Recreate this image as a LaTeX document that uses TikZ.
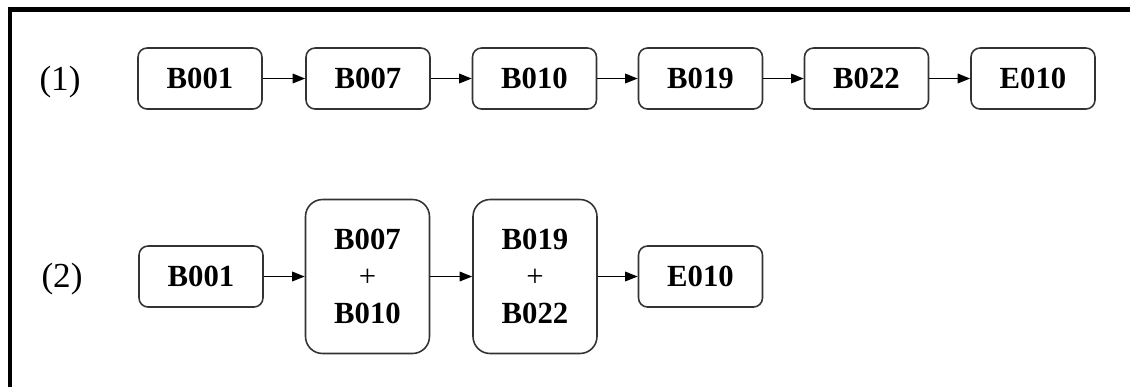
\documentclass[tikz,border=0pt]{standalone}
\usepackage{fontspec}
\setmainfont{Liberation Serif}
\usetikzlibrary{arrows.meta}

\tikzset{
  blk/.style={draw=black!80, line width=0.9pt, rounded corners=0.18cm,
    minimum width=2.48cm, minimum height=1.22cm, inner sep=0pt,
    align=center, font=\fontsize{17.5}{21}\selectfont\bfseries},
  bigblk/.style={blk, minimum height=3.08cm, rounded corners=0.34cm},
  flow/.style={-{Triangle[length=0.25cm,width=0.19cm]}, line width=0.9pt},
  lbl/.style={font=\fontsize{20}{24}\selectfont}
}

\begin{document}
\begin{tikzpicture}[x=0.02cm, y=-0.02cm]
        \useasboundingbox (0,0) rectangle (1130,387);
        % frame
        \draw[line width=0.1cm] (10,387)--(10,9.7)--(1130,9.7);

        % first sequence
        \node[lbl] (l1) at (60,82) {(1)};
        \node[blk] (a1) at (200,78.5) {B001};
        \node[blk] (a2) at (368,78.5) {B007};
        \node[blk] (a3) at (534.5,78.5) {B010};
        \node[blk] (a4) at (700.5,78.5) {B019};
        \node[blk] (a5) at (866.5,78.5) {B022};
        \node[blk] (a6) at (1033,78.5) {E010};
        \draw[flow] (a1)--(a2);
        \draw[flow] (a2)--(a3);
        \draw[flow] (a3)--(a4);
        \draw[flow] (a4)--(a5);
        \draw[flow] (a5)--(a6);

        % merged sequence
        \node[lbl] (l2) at (62,279) {(2)};
        \node[blk] (b1) at (201,276.5) {B001};
        \node[bigblk] (b2) at (367.5,276.5) {B007\\{\mdseries +}\\B010};
        \node[bigblk] (b3) at (535,276.5) {B019\\{\mdseries +}\\B022};
        \node[blk] (b4) at (700.5,276.5) {E010};
        \draw[flow] (b1)--(b2);
        \draw[flow] (b2)--(b3);
        \draw[flow] (b3)--(b4);
\end{tikzpicture}
\end{document}
